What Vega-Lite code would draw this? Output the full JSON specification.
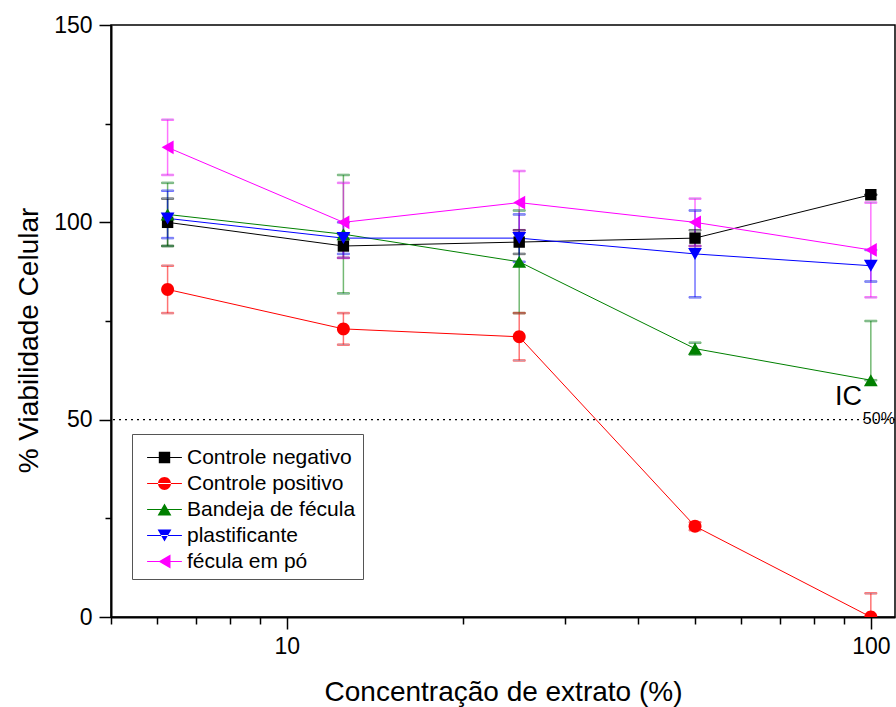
{
  "$schema": "https://vega.github.io/schema/vega-lite/v6.json",
  "width": 784,
  "height": 592,
  "autosize": "none",
  "padding": {"left": 111, "top": 25, "right": 1, "bottom": 90},
  "background": "white",
  "config": {
    "font": "Liberation Sans",
    "view": {"stroke": "black", "strokeWidth": 1.5},
    "axis": {"labelFont": "Liberation Sans", "titleFont": "Liberation Sans", "labelColor": "black", "titleColor": "black", "tickColor": "black", "domainColor": "black", "grid": false, "titleFontWeight": "normal"},
    "legend": {"labelFont": "Liberation Sans", "titleFont": "Liberation Sans"}
  },
  "datasets": {
    "series": [
      {"s": "Controle negativo", "c": 6.25, "v": 100, "lo": 94, "hi": 106},
      {"s": "Controle negativo", "c": 12.5, "v": 94, "lo": 91, "hi": 97},
      {"s": "Controle negativo", "c": 25, "v": 95, "lo": 92, "hi": 98},
      {"s": "Controle negativo", "c": 50, "v": 96, "lo": 94, "hi": 98},
      {"s": "Controle negativo", "c": 100, "v": 107, "lo": 107, "hi": 107},
      {"s": "Controle positivo", "c": 6.25, "v": 83, "lo": 77, "hi": 89},
      {"s": "Controle positivo", "c": 12.5, "v": 73, "lo": 69, "hi": 77},
      {"s": "Controle positivo", "c": 25, "v": 71, "lo": 65, "hi": 77},
      {"s": "Controle positivo", "c": 50, "v": 23, "lo": 22, "hi": 24},
      {"s": "Controle positivo", "c": 100, "v": 0, "lo": -6, "hi": 6},
      {"s": "Bandeja de fécula", "c": 6.25, "v": 102, "lo": 94, "hi": 110},
      {"s": "Bandeja de fécula", "c": 12.5, "v": 97, "lo": 82, "hi": 112},
      {"s": "Bandeja de fécula", "c": 25, "v": 90, "lo": 77, "hi": 103},
      {"s": "Bandeja de fécula", "c": 50, "v": 68, "lo": 66.5, "hi": 69.5},
      {"s": "Bandeja de fécula", "c": 100, "v": 60, "lo": 60, "hi": 75},
      {"s": "plastificante", "c": 6.25, "v": 101, "lo": 96, "hi": 108},
      {"s": "plastificante", "c": 12.5, "v": 96, "lo": 92, "hi": 100},
      {"s": "plastificante", "c": 25, "v": 96, "lo": 90, "hi": 102},
      {"s": "plastificante", "c": 50, "v": 92, "lo": 81, "hi": 103},
      {"s": "plastificante", "c": 100, "v": 89, "lo": 85, "hi": 93},
      {"s": "fécula em pó", "c": 6.25, "v": 119, "lo": 112, "hi": 126},
      {"s": "fécula em pó", "c": 12.5, "v": 100, "lo": 91, "hi": 110},
      {"s": "fécula em pó", "c": 25, "v": 105, "lo": 98, "hi": 113},
      {"s": "fécula em pó", "c": 50, "v": 100, "lo": 94, "hi": 106},
      {"s": "fécula em pó", "c": 100, "v": 93, "lo": 81, "hi": 105}
    ]
  },
  "layer": [
    {
      "data": {"values": [{"v": 50}]},
      "mark": {"type": "rule", "color": "black", "strokeWidth": 1.3, "strokeDash": [2, 4]},
      "encoding": {
        "y": {"field": "v", "type": "quantitative", "scale": {"domain": [0, 150], "nice": false},
          "axis": {"title": "% Viabilidade Celular", "titleFontSize": 28, "titlePadding": 10, "titleY": 315,
            "values": [0, 25, 50, 75, 100, 125, 150],
            "labelExpr": "datum.value % 50 == 0 ? datum.label : ''",
            "tickSize": {"condition": {"test": "datum.value % 50 == 0", "value": 12}, "value": 6},
            "tickWidth": 1.5, "domainWidth": 2, "labelFontSize": 23, "labelPadding": 7}}
      }
    },
    {
      "data": {"name": "series"},
      "mark": {"type": "rule", "strokeWidth": 1.5, "opacity": 0.55, "clip": true},
      "encoding": {
        "x": {"field": "c", "type": "quantitative", "scale": {"type": "log", "domain": [5, 110], "nice": false},
          "axis": {"title": "Concentração de extrato (%)", "titleFontSize": 28, "titlePadding": 20,
            "values": [5, 6, 7, 8, 9, 10, 20, 30, 40, 50, 60, 70, 80, 90, 100],
            "labelExpr": "datum.value == 10 || datum.value == 100 ? format(datum.value, 'd') : ''",
            "tickSize": {"condition": {"test": "datum.value == 10 || datum.value == 100", "value": 12}, "value": 7},
            "tickWidth": 1.5, "domainWidth": 2, "labelFontSize": 23, "labelPadding": 6}},
        "y": {"field": "lo", "type": "quantitative", "scale": {"domain": [0, 150], "nice": false}},
        "y2": {"field": "hi"},
        "stroke": {"field": "s", "type": "nominal", "legend": null,
          "scale": {"domain": ["fécula em pó", "plastificante", "Bandeja de fécula", "Controle positivo", "Controle negativo"], "range": ["#ff00ff", "#0000ff", "#008000", "#ff0000", "#000000"]}}
      }
    },
    {
      "data": {"name": "series"},
      "mark": {"type": "tick", "orient": "horizontal", "size": 12, "thickness": 1.5, "opacity": 0.55, "clip": true},
      "encoding": {
        "x": {"field": "c", "type": "quantitative", "scale": {"type": "log", "domain": [5, 110], "nice": false}},
        "y": {"field": "lo", "type": "quantitative", "scale": {"domain": [0, 150], "nice": false}},
        "stroke": {"field": "s", "type": "nominal", "legend": null}
      }
    },
    {
      "data": {"name": "series"},
      "mark": {"type": "tick", "orient": "horizontal", "size": 12, "thickness": 1.5, "opacity": 0.55, "clip": true},
      "encoding": {
        "x": {"field": "c", "type": "quantitative", "scale": {"type": "log", "domain": [5, 110], "nice": false}},
        "y": {"field": "hi", "type": "quantitative", "scale": {"domain": [0, 150], "nice": false}},
        "stroke": {"field": "s", "type": "nominal", "legend": null}
      }
    },
    {
      "data": {"name": "series"},
      "mark": {"type": "line", "strokeWidth": 1, "clip": true},
      "encoding": {
        "x": {"field": "c", "type": "quantitative", "scale": {"type": "log", "domain": [5, 110], "nice": false}},
        "y": {"field": "v", "type": "quantitative", "scale": {"domain": [0, 150], "nice": false}},
        "stroke": {"field": "s", "type": "nominal", "legend": null}
      }
    },
    {
      "data": {"name": "series"},
      "transform": [{"filter": "datum.s == 'Controle negativo'"}],
      "mark": {"type": "point", "filled": true, "size": 144, "opacity": 1, "strokeWidth": 0, "clip": true, "shape": "M-0.95,-0.95H0.95V0.95H-0.95Z"},
      "encoding": {
        "x": {"field": "c", "type": "quantitative", "scale": {"type": "log", "domain": [5, 110], "nice": false}},
        "y": {"field": "v", "type": "quantitative", "scale": {"domain": [0, 150], "nice": false}},
        "color": {"field": "s", "type": "nominal"}
      }
    },
    {
      "data": {"name": "series"},
      "transform": [{"filter": "datum.s == 'Controle positivo'"}],
      "mark": {"type": "point", "filled": true, "size": 144, "opacity": 1, "strokeWidth": 0, "clip": true, "shape": "M-1.08,0A1.08,1.08,0,1,0,1.08,0A1.08,1.08,0,1,0,-1.08,0Z"},
      "encoding": {
        "x": {"field": "c", "type": "quantitative", "scale": {"type": "log", "domain": [5, 110], "nice": false}},
        "y": {"field": "v", "type": "quantitative", "scale": {"domain": [0, 150], "nice": false}},
        "color": {"field": "s", "type": "nominal"}
      }
    },
    {
      "data": {"name": "series"},
      "transform": [{"filter": "datum.s == 'Bandeja de fécula'"}],
      "mark": {"type": "point", "filled": true, "size": 144, "opacity": 1, "strokeWidth": 0, "clip": true, "shape": "M0,-1L1.15,1L-1.15,1Z"},
      "encoding": {
        "x": {"field": "c", "type": "quantitative", "scale": {"type": "log", "domain": [5, 110], "nice": false}},
        "y": {"field": "v", "type": "quantitative", "scale": {"domain": [0, 150], "nice": false}},
        "color": {"field": "s", "type": "nominal"}
      }
    },
    {
      "data": {"name": "series"},
      "transform": [{"filter": "datum.s == 'plastificante'"}],
      "mark": {"type": "point", "filled": true, "size": 144, "opacity": 1, "strokeWidth": 0, "clip": true, "shape": "M0,1L1.15,-1L-1.15,-1Z"},
      "encoding": {
        "x": {"field": "c", "type": "quantitative", "scale": {"type": "log", "domain": [5, 110], "nice": false}},
        "y": {"field": "v", "type": "quantitative", "scale": {"domain": [0, 150], "nice": false}},
        "color": {"field": "s", "type": "nominal"}
      }
    },
    {
      "data": {"name": "series"},
      "transform": [{"filter": "datum.s == 'fécula em pó'"}],
      "mark": {"type": "point", "filled": true, "size": 144, "opacity": 1, "strokeWidth": 0, "clip": true, "shape": "M-1,0L1,-1.15L1,1.15Z"},
      "encoding": {
        "x": {"field": "c", "type": "quantitative", "scale": {"type": "log", "domain": [5, 110], "nice": false}},
        "y": {"field": "v", "type": "quantitative", "scale": {"domain": [0, 150], "nice": false}},
        "color": {"field": "s", "type": "nominal"}
      }
    },
    {
      "data": {"name": "series"},
      "transform": [{"filter": "datum.c > 1000"}],
      "mark": {"type": "point", "filled": true, "size": 144, "opacity": 1, "strokeWidth": 0, "clip": true},
      "encoding": {
        "x": {"field": "c", "type": "quantitative", "scale": {"type": "log", "domain": [5, 110], "nice": false}},
        "y": {"field": "v", "type": "quantitative", "scale": {"domain": [0, 150], "nice": false}},
        "color": {"field": "s", "type": "nominal",
          "scale": {"domain": ["Controle negativo", "Controle positivo", "Bandeja de fécula", "plastificante", "fécula em pó"], "range": ["#000000", "#ff0000", "#008000", "#0000ff", "#ff00ff"]},
          "legend": {"title": " ", "titleFontSize": 6, "titlePadding": 0, "orient": "none", "legendX": 21, "legendY": 409, "strokeColor": "#555555", "fillColor": "white", "padding": 7, "symbolOffset": 15, "labelOffset": 12, "labelFontSize": 21, "labelLimit": 400, "labelColor": "black", "rowPadding": 4, "symbolSize": 144, "symbolOpacity": 1}},
        "shape": {"field": "s", "type": "nominal",
          "scale": {"domain": ["Controle negativo", "Controle positivo", "Bandeja de fécula", "plastificante", "fécula em pó"],
            "range": ["M-0.95,-0.95H0.95V0.95H-0.95Z M-2.9,-0.09H2.9V0.09H-2.9Z", "M-1.08,0A1.08,1.08,0,1,0,1.08,0A1.08,1.08,0,1,0,-1.08,0Z M-2.9,-0.09H2.9V0.09H-2.9Z", "M0,-1L1.15,1L-1.15,1Z M-2.9,-0.09H2.9V0.09H-2.9Z", "M0,1L1.15,-1L-1.15,-1Z M-2.9,-0.09H2.9V0.09H-2.9Z", "M-1,0L1,-1.15L1,1.15Z M-2.9,-0.09H2.9V0.09H-2.9Z"]}}
      }
    },
    {
      "data": {"values": [{"c": 86.8, "v": 53.7, "t": "IC"}]},
      "mark": {"type": "text", "fontSize": 27, "align": "left", "baseline": "alphabetic", "color": "black"},
      "encoding": {
        "x": {"field": "c", "type": "quantitative", "scale": {"type": "log", "domain": [5, 110], "nice": false}},
        "y": {"field": "v", "type": "quantitative", "scale": {"domain": [0, 150], "nice": false}},
        "text": {"field": "t"}}
    },
    {
      "data": {"values": [{"c": 96.9, "v": 48.9, "t": "50%"}]},
      "mark": {"type": "text", "fontSize": 16, "align": "left", "baseline": "alphabetic", "color": "black"},
      "encoding": {
        "x": {"field": "c", "type": "quantitative", "scale": {"type": "log", "domain": [5, 110], "nice": false}},
        "y": {"field": "v", "type": "quantitative", "scale": {"domain": [0, 150], "nice": false}},
        "text": {"field": "t"}}
    }
  ]
}
